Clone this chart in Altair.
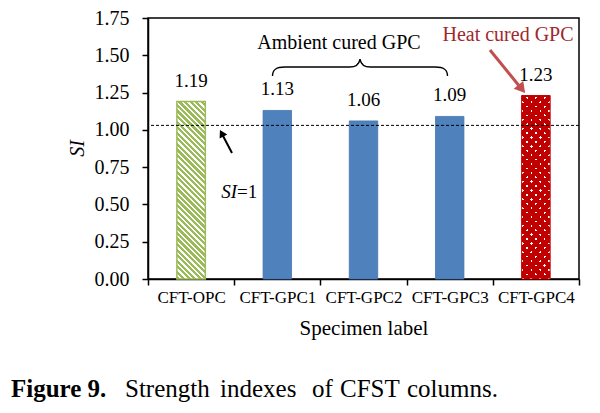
import math
import altair as alt
import pandas as pd

# ---------------- data ----------------
labels = ["CFT-OPC", "CFT-GPC1", "CFT-GPC2", "CFT-GPC3", "CFT-GPC4"]
si = [1.19, 1.13, 1.06, 1.09, 1.23]
si_line = [1.03]
y_ticks = [0, 0.25, 0.5, 0.75, 1.0, 1.25, 1.5, 1.75]
ambient_group = ["CFT-GPC1", "CFT-GPC2", "CFT-GPC3"]
opc_group = ["CFT-OPC"]
heat_group = ["CFT-GPC4"]
caption_words = ["Strength", "indexes", "of", "CFST", "columns."]

# ---------------- layout / style ----------------
W, H = 431, 261
YMAX = 1.75
BAND = 0.33
SERIF = "Liberation Serif"
BLUE = "#4F81BD"
GREEN = "#9BBB59"
RED = "#C00000"
ARROW_RED = "#C0504D"
TEXT_RED = "#A0282D"

df = pd.DataFrame({"label": labels, "si": si})


def stripe_gradient(w, h, dx, dy, period, on_frac, on_color, off_color):
    """Linear gradient (bbox units) producing stripes along (dx,dy) in pixel space."""
    gx, gy = dy / h, -dx / w
    corners = [(0, 0), (1, 0), (0, 1), (1, 1)]
    proj = [cx * gx + cy * gy for cx, cy in corners]
    i0 = proj.index(min(proj))
    i1 = proj.index(max(proj))
    rng = proj[i1] - proj[i0]
    g2 = gx * gx + gy * gy
    x1, y1 = corners[i0]
    x2 = x1 + gx * rng / g2
    y2 = y1 + gy * rng / g2
    nx, ny = -dy, dx
    nn = math.hypot(nx, ny)
    c0, c1 = corners[i0], corners[i1]
    L = abs(((c1[0] - c0[0]) * w * nx + (c1[1] - c0[1]) * h * ny) / nn)
    n = max(1, int(round(L / period)))
    stops = []
    for k in range(n):
        a = k / n
        b = (k + on_frac) / n
        c = (k + 1) / n
        stops += [
            {"offset": round(a, 6), "color": on_color},
            {"offset": round(b, 6), "color": on_color},
            {"offset": round(b, 6), "color": off_color},
            {"offset": round(min(c, 1.0), 6), "color": off_color},
        ]
    return {"gradient": "linear", "x1": x1, "y1": y1, "x2": x2, "y2": y2, "stops": stops}


bw = W / len(labels) * BAND
h_opc = si[0] / YMAX * H
h_heat = si[4] / YMAX * H

hatch = stripe_gradient(bw, h_opc, 1, 1, 3.9, 0.58, GREEN, "#ffffff")
dotp = 9 / math.sqrt(2)
TRANSP = "rgba(192,0,0,0)"
dotsA = stripe_gradient(bw, h_heat, 1, 1, dotp, 0.28, TRANSP, RED)
dotsB = stripe_gradient(bw, h_heat, 1, -1, dotp, 0.28, TRANSP, RED)

x_enc = alt.X(
    "label:N",
    sort=labels,
    scale=alt.Scale(domain=labels, paddingInner=0, paddingOuter=0),
    axis=alt.Axis(
        title="Specimen label",
        labelAngle=0,
        tickBand="extent",
        labelFont=SERIF,
        titleFont=SERIF,
        labelFontSize=17,
        labelPadding=4,
        tickSize=6,
        titleFontSize=21,
        titleY=49,
        titleBaseline="middle",
        labelOverlap=False,
    ),
)
y_enc = alt.Y(
    "si:Q",
    scale=alt.Scale(domain=[0, YMAX], nice=False, zero=True),
    axis=alt.Axis(
        title="SI",
        values=y_ticks,
        format=".2f",
        labelFont=SERIF,
        titleFont=SERIF,
        labelFontSize=20,
        labelPadding=13,
        tickSize=6,
        titleFontSize=20,
        titleFontStyle="italic",
        titleX=-71,
        titleY=130,
        titleAngle=270,
        titleBaseline="middle",
        titleAlign="center",
    ),
)

base = alt.Chart(df).encode(x=x_enc, y=y_enc)

blue_bars = base.transform_filter(
    alt.FieldOneOfPredicate(field="label", oneOf=ambient_group)
).mark_bar(width=alt.RelativeBandSize(BAND), fill=BLUE, stroke="#4475ad", strokeWidth=0.8)

opc_bar = base.transform_filter(
    alt.FieldOneOfPredicate(field="label", oneOf=opc_group)
).mark_bar(width=alt.RelativeBandSize(BAND), fill=hatch, stroke=GREEN, strokeWidth=1.5)

heat = base.transform_filter(alt.FieldOneOfPredicate(field="label", oneOf=heat_group))
heat_white = heat.mark_bar(width=alt.RelativeBandSize(BAND), fill="#ffffff")
heat_a = heat.mark_bar(width=alt.RelativeBandSize(BAND), fill=dotsA)
heat_b = heat.mark_bar(width=alt.RelativeBandSize(BAND), fill=dotsB)
heat_outline = heat.mark_bar(
    width=alt.RelativeBandSize(BAND), fill="transparent", stroke=RED, strokeWidth=1
)

ref_line = alt.Chart(pd.DataFrame({"si": si_line})).mark_rule(
    color="black", strokeDash=[3, 2], strokeWidth=1
).encode(y=y_enc)

value_labels = base.mark_text(
    dy=-21, baseline="middle", align="center", font=SERIF, fontSize=19, color="black"
).encode(text=alt.Text("si:Q", format=".2f"))

one = alt.Data(values=[{"k": 1}])


def txt(text, x, y, **kw):
    props = dict(font=SERIF, fontSize=20, color="black", baseline="middle", align="center")
    props.update(kw)
    return alt.Chart(one).mark_text(text=text, **props).encode(x=alt.value(x), y=alt.value(y))


ambient_txt = txt("Ambient cured GPC", 191, 25)
heat_txt = txt("Heat cured GPC", 360, 17, color=TEXT_RED)

BRACE = (
    "M -1 0.103 C -1 0.03 -0.96 0 -0.86 0 L -0.12 0 C -0.04 0 -0.01 -0.03 0 -0.091 "
    "C 0.01 -0.03 0.04 0 0.12 0 L 0.86 0 C 0.96 0 1 0.03 1 0.103"
)
brace = alt.Chart(one).mark_point(
    shape=BRACE, size=175 * 175, filled=False, stroke="black", strokeWidth=1.4, opacity=1
).encode(x=alt.value(212), y=alt.value(49))

red_shaft = alt.Chart(one).mark_rule(color=ARROW_RED, strokeWidth=3).encode(
    x=alt.value(342), y=alt.value(32), x2=alt.value(372), y2=alt.value(69)
)
red_head = alt.Chart(one).mark_point(
    shape="triangle-up", filled=True, color=ARROW_RED, size=150, angle=141, opacity=1
).encode(x=alt.value(373.8), y=alt.value(70.9))

blk_shaft = alt.Chart(one).mark_rule(color="black", strokeWidth=2).encode(
    x=alt.value(84), y=alt.value(135), x2=alt.value(74), y2=alt.value(116)
)
blk_head = alt.Chart(one).mark_point(
    shape="triangle-up", filled=True, color="black", size=75, angle=332, opacity=1
).encode(x=alt.value(73.7), y=alt.value(115.2))

si_a = txt("SI", 89, 174, align="right", fontStyle="italic", fontSize=19)
si_b = txt("=1", 89, 174, align="left", fontSize=19)

cap_y = 379
cap_x = [-23, 72, 164, 192, 259]
caption = [txt("Figure 9.", -137, cap_y, align="left", baseline="alphabetic", fontSize=25, fontWeight="bold")]
for w_, xx in zip(caption_words, cap_x):
    caption.append(txt(w_, xx, cap_y, align="left", baseline="alphabetic", fontSize=25))

chart = alt.layer(
    blue_bars, opc_bar, heat_white, heat_a, heat_b, heat_outline,
    ref_line, value_labels,
    ambient_txt, heat_txt, brace, red_shaft, red_head, blk_shaft, blk_head,
    si_a, si_b, *caption,
).properties(
    width=W,
    height=H,
    autosize=alt.AutoSizeParams(type="none"),
    padding={"left": 140, "top": 10, "right": 12, "bottom": 124},
).configure_view(
    stroke="black", strokeWidth=1.5
).configure_axis(
    domainColor="black", tickColor="black", labelColor="black", titleColor="black",
    grid=False, labelFont=SERIF, titleFont=SERIF, titleFontWeight="normal",
    domainWidth=1.5, tickWidth=1.5,
)

chart.save("out.html", embed_options={"renderer": "svg", "actions": False})
